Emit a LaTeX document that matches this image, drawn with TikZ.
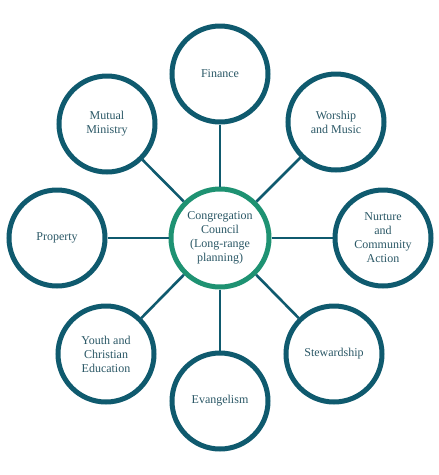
\documentclass[tikz,border=0pt]{standalone}
\usepackage{fontspec}
\setmainfont{Liberation Serif}
\definecolor{teal1}{HTML}{0F5A6E}
\definecolor{green1}{HTML}{1E9272}
\definecolor{txt}{HTML}{2B5866}
\begin{document}
\begin{tikzpicture}[x=1pt,y=-1pt,
  outer/.style={circle,draw=teal1,line width=5pt,fill=white,minimum size=96pt,inner sep=0pt,align=center,text=txt,font=\fontsize{12}{14}\selectfont},
  hub/.style={circle,draw=green1,line width=5pt,fill=white,minimum size=98pt,inner sep=0pt,align=center,text=txt,font=\fontsize{12}{14}\selectfont},
  link/.style={draw=teal1,line width=2.6pt}]
\useasboundingbox (0,0) rectangle (439,475);
\node[hub] (c) at (220,238) {Congregation\\Council\\(Long-range\\planning)};
\node[outer] (fin) at (220,74) {Finance};
\node[outer] (wor) at (336,122) {Worship\\and Music};
\node[outer] (nur) at (383,238) {Nurture\\and\\Community\\Action};
\node[outer] (ste) at (334,354) {Stewardship};
\node[outer] (eva) at (220,401) {Evangelism};
\node[outer] (you) at (106,354) {Youth and\\Christian\\Education};
\node[outer] (pro) at (57,238) {Property};
\node[outer] (mut) at (107,124) {Mutual\\Ministry};
\foreach \n in {fin,wor,nur,ste,eva,you,pro,mut}{
  \draw[link] (c) -- (\n);
}
\end{tikzpicture}
\end{document}
